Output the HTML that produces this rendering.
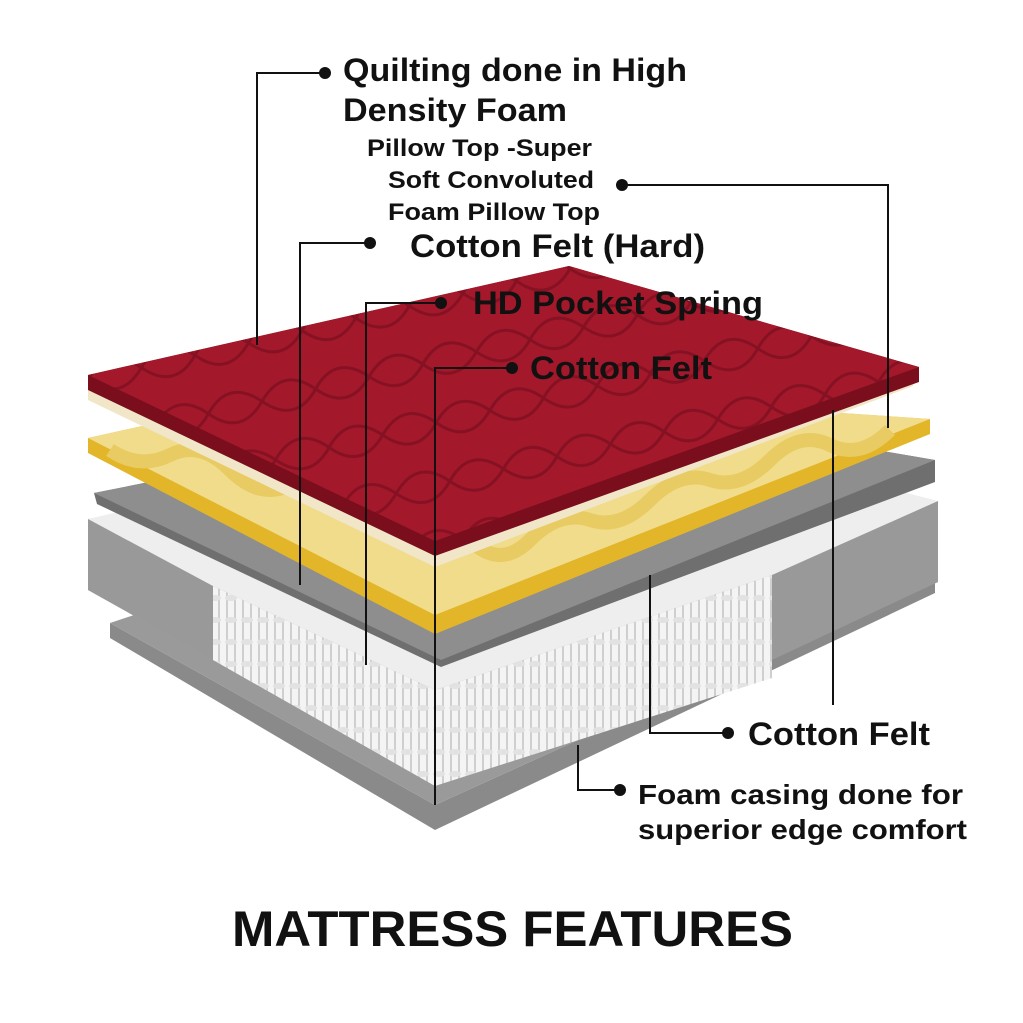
<!DOCTYPE html>
<html><head><meta charset="utf-8"><style>
html,body{margin:0;padding:0;background:#fff}
svg{display:block}
text{font-family:"Liberation Sans",sans-serif;fill:#111;font-weight:bold}
</style></head><body>
<svg width="1023" height="1023" viewBox="0 0 1023 1023" xmlns="http://www.w3.org/2000/svg">
<defs>
<pattern id="sp" width="16" height="22" patternUnits="userSpaceOnUse">
<rect width="16" height="22" fill="#f4f4f4"/>
<path d="M3 0 v22 M11 0 v22" stroke="#cfcfcf" stroke-width="2"/>
<ellipse cx="7" cy="4" rx="6" ry="3" fill="#e2e2e2"/>
</pattern>
<pattern id="q" width="110" height="60" patternUnits="userSpaceOnUse" patternTransform="rotate(-13)">
<rect width="110" height="60" fill="#a3192b"/>
<path d="M0 30 Q27 0 55 30 T110 30 M0 30 Q27 60 55 30 T110 30" stroke="#7d0f1f" stroke-width="3" fill="none" opacity="0.8"/>
</pattern>
</defs>
<!-- base -->
<polygon points="110,623 435,805 935,578 935,593 435,830 110,638" fill="#8a8a8a"/>
<polygon points="110,623 435,805 935,578 700,520 300,560" fill="#9a9a9a"/>
<!-- spring block -->
<polygon points="88,519 300,480 938,501 938,582 435,786 213,660 88,590" fill="#a9a9a9"/>
<polygon points="213,586 435,690 772,575 772,678 435,786 213,660" fill="url(#sp)"/>
<polygon points="88,519 213,586 213,660 88,590" fill="#999"/>
<polygon points="772,575 938,501 938,582 772,660" fill="#999"/>
<polygon points="88,519 300,470 700,440 938,501 772,575 435,690 213,586" fill="#eee"/>
<!-- gray felt -->
<polygon points="94,493 360,440 700,420 935,460 935,482 441,667 97,504" fill="#6f6f6f"/>
<polygon points="94,493 360,440 700,420 935,460 441,660" fill="#8e8e8e"/>
<!-- yellow -->
<polygon points="88,438 350,380 930,419 930,434 435,634 88,453" fill="#e3b62a"/>
<polygon points="88,438 350,380 930,419 435,615" fill="#f0dc8a"/>
<path d="M110 450 Q140 470 170 455 T230 470 T290 485 T350 500 T410 520 T470 540 T530 540 T590 520 T650 500 T710 480 T770 460 T830 445 T890 430" stroke="#e8cb62" stroke-width="14" fill="none"/>
<!-- cream -->
<polygon points="88,375 569,266 919,367 913,386 435,567 88,400" fill="#f1e6c8"/>
<!-- red top -->
<polygon points="88,375 569,266 919,367 919,382 435,556 88,390" fill="#7a0e1d"/>
<polygon points="88,375 569,266 919,367 435,541" fill="url(#q)"/>
<!-- leader lines -->
<g stroke="#111" stroke-width="2" fill="none">
<polyline points="325,73 257,73 257,345"/>
<polyline points="622,185 888,185 888,428"/>
<polyline points="370,243 300,243 300,585"/>
<polyline points="441,303 366,303 366,665"/>
<polyline points="512,368 435,368 435,805"/>
<polyline points="833,410 833,705"/>
<polyline points="728,733 650,733 650,575"/>
<polyline points="620,790 578,790 578,745"/>
</g>
<g fill="#111">
<circle cx="325" cy="73" r="6"/><circle cx="622" cy="185" r="6"/><circle cx="370" cy="243" r="6"/>
<circle cx="441" cy="303" r="6"/><circle cx="512" cy="368" r="6"/><circle cx="728" cy="733" r="6"/><circle cx="620" cy="790" r="6"/>
</g>
<g lengthAdjust="spacingAndGlyphs">
<text x="343" y="81" font-size="32" textLength="344" lengthAdjust="spacingAndGlyphs">Quilting done in High</text>
<text x="343" y="121" font-size="32" textLength="224" lengthAdjust="spacingAndGlyphs">Density Foam</text>
<text x="367" y="156" font-size="24" textLength="225" lengthAdjust="spacingAndGlyphs">Pillow Top -Super</text>
<text x="388" y="188" font-size="24" textLength="206" lengthAdjust="spacingAndGlyphs">Soft Convoluted</text>
<text x="388" y="220" font-size="24" textLength="212" lengthAdjust="spacingAndGlyphs">Foam Pillow Top</text>
<text x="410" y="257" font-size="32" textLength="295" lengthAdjust="spacingAndGlyphs">Cotton Felt (Hard)</text>
<text x="473" y="314" font-size="32" textLength="290" lengthAdjust="spacingAndGlyphs">HD Pocket Spring</text>
<text x="530" y="379" font-size="32" textLength="182" lengthAdjust="spacingAndGlyphs">Cotton Felt</text>
<text x="748" y="745" font-size="32" textLength="182" lengthAdjust="spacingAndGlyphs">Cotton Felt</text>
<text x="638" y="804" font-size="28" textLength="325" lengthAdjust="spacingAndGlyphs">Foam casing done for</text>
<text x="638" y="839" font-size="28" textLength="329" lengthAdjust="spacingAndGlyphs">superior edge comfort</text>
<text x="232" y="946" font-size="50" textLength="561" lengthAdjust="spacingAndGlyphs">MATTRESS FEATURES</text>
</g>
</svg>
</body></html>
